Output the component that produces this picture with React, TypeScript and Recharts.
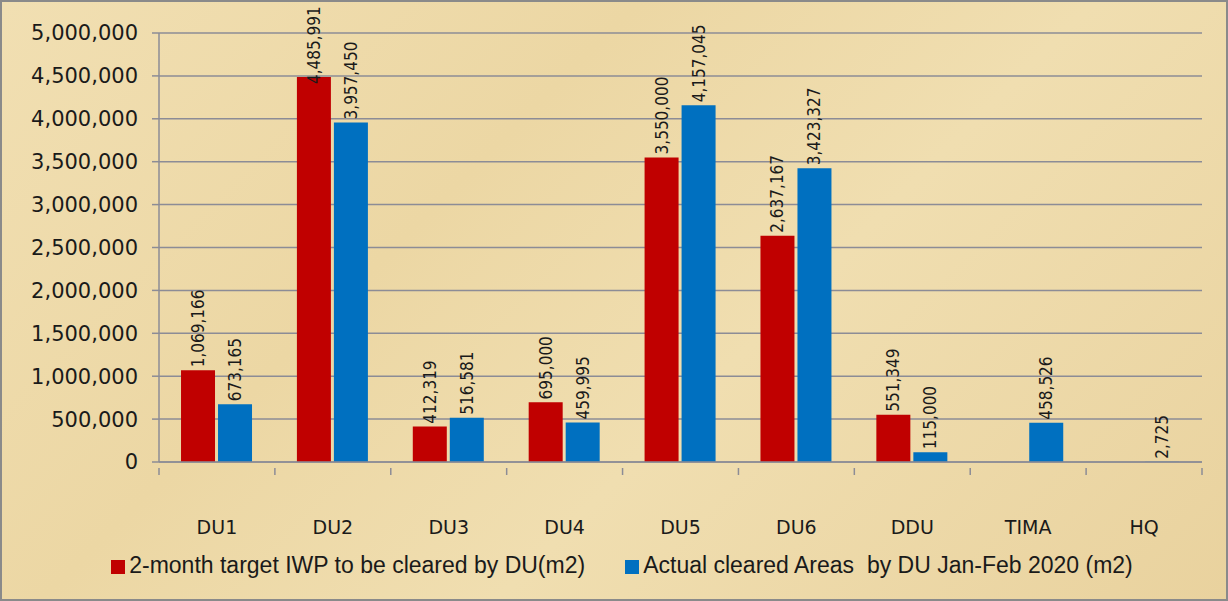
import { BarChart, Bar, XAxis, YAxis, CartesianGrid, Legend, LabelList } from 'recharts';

const categories = ['DU1', 'DU2', 'DU3', 'DU4', 'DU5', 'DU6', 'DDU', 'TIMA', 'HQ'];
const targetValues: (number | null)[] = [1069166, 4485991, 412319, 695000, 3550000, 2637167, 551349, null, null];
const actualValues: (number | null)[] = [673165, 3957450, 516581, 459995, 4157045, 3423327, 115000, 458526, 2725];
const yTicks = [0, 500000, 1000000, 1500000, 2000000, 2500000, 3000000, 3500000, 4000000, 4500000, 5000000];

const TARGET_NAME = '2-month target IWP to be cleared by DU(m2)';
const ACTUAL_NAME = 'Actual cleared Areas  by DU Jan-Feb 2020 (m2)';

const data = categories.map((name, i) => ({
  name,
  target: targetValues[i],
  actual: actualValues[i],
}));

const W = 1228;
const H = 601;
const PLOT_LEFT = 159;
const PLOT_RIGHT = 1202;
const BAND = (PLOT_RIGHT - PLOT_LEFT) / categories.length;
const TICK_MARGIN = 59;

const fmt = (v: number) => v.toLocaleString('en-US');

// rotated value label sitting just above the bar (pushed down if it would run off the top)
const RotatedLabel = (props: any) => {
  const { x, y, width, value } = props;
  if (value == null) return null;
  const cx = Number(x) + Number(width) / 2;
  const cy = Math.max(Number(y) - 3, 82);
  return (
    <text
      x={cx}
      y={cy}
      transform={`rotate(-90 ${cx} ${cy})`}
      textAnchor="start"
      dominantBaseline="central"
      fontFamily="'DejaVu Sans Condensed', 'DejaVu Sans'"
      fontSize={17}
      fill="#1a1a1a"
    >
      {fmt(Number(value))}
    </text>
  );
};

// category label plus tick marks on band boundaries
const CategoryTick = (props: any) => {
  const { x, y, payload, index } = props;
  const left = x - BAND / 2;
  const axisY = y - TICK_MARGIN;
  return (
    <g>
      <line x1={left} x2={left} y1={axisY} y2={axisY + 7} stroke="#8c8c96" strokeWidth={1.5} />
      {index === categories.length - 1 && (
        <line x1={x + BAND / 2} x2={x + BAND / 2} y1={axisY} y2={axisY + 7} stroke="#8c8c96" strokeWidth={1.5} />
      )}
      <text
        x={x}
        y={y}
        textAnchor="middle"
        dominantBaseline="central"
        fontFamily="'DejaVu Sans'"
        fontSize={19}
        fill="#1a1a1a"
      >
        {payload.value}
      </text>
    </g>
  );
};

export default function App() {
  return (
    <div
      style={{
        position: 'absolute',
        left: 0,
        top: 0,
        width: W,
        height: H,
        boxSizing: 'border-box',
        border: '2px solid #8a8a8a',
        background: 'linear-gradient(135deg, #f1dfb2 0%, #ecd7a4 35%, #f0deb0 60%, #e9d29e 100%)',
      }}
    >
      <BarChart
        width={W - 4}
        height={H - 4}
        data={data}
        margin={{ top: 31, right: 24, bottom: 0, left: 0 }}
        barCategoryGap="19%"
        barGap={3}
      >
        <CartesianGrid vertical={false} stroke="#8c8c96" strokeWidth={1.5} />
        <XAxis
          dataKey="name"
          axisLine={{ stroke: '#8c8c96', strokeWidth: 1.5 }}
          tickLine={false}
          tick={<CategoryTick />}
          tickMargin={TICK_MARGIN}
          height={110}
          interval={0}
        />
        <YAxis
          width={157}
          domain={[0, 5000000]}
          ticks={yTicks}
          tickFormatter={fmt}
          axisLine={{ stroke: '#8c8c96', strokeWidth: 1.5 }}
          tickLine={{ stroke: '#8c8c96', strokeWidth: 1.5 }}
          tickSize={7}
          tickMargin={14}
          tick={{ fontFamily: "'DejaVu Sans'", fontSize: 21, fill: '#1a1a1a' }}
          interval={0}
        />
        <Legend
          verticalAlign="bottom"
          iconType="square"
          iconSize={14}
          wrapperStyle={{
            bottom: 20,
            paddingLeft: 40,
            fontFamily: "'Liberation Sans', 'Open Sans'",
            fontSize: 23,
            color: '#1a1a1a',
          }}
          formatter={(value: string) => <span style={{ color: '#1a1a1a', marginRight: 30, whiteSpace: 'pre' }}>{value}</span>}
        />
        <Bar dataKey="target" name={TARGET_NAME} fill="#c00000" isAnimationActive={false}>
          <LabelList dataKey="target" content={<RotatedLabel />} />
        </Bar>
        <Bar dataKey="actual" name={ACTUAL_NAME} fill="#0070c0" isAnimationActive={false}>
          <LabelList dataKey="actual" content={<RotatedLabel />} />
        </Bar>
      </BarChart>
    </div>
  );
}
